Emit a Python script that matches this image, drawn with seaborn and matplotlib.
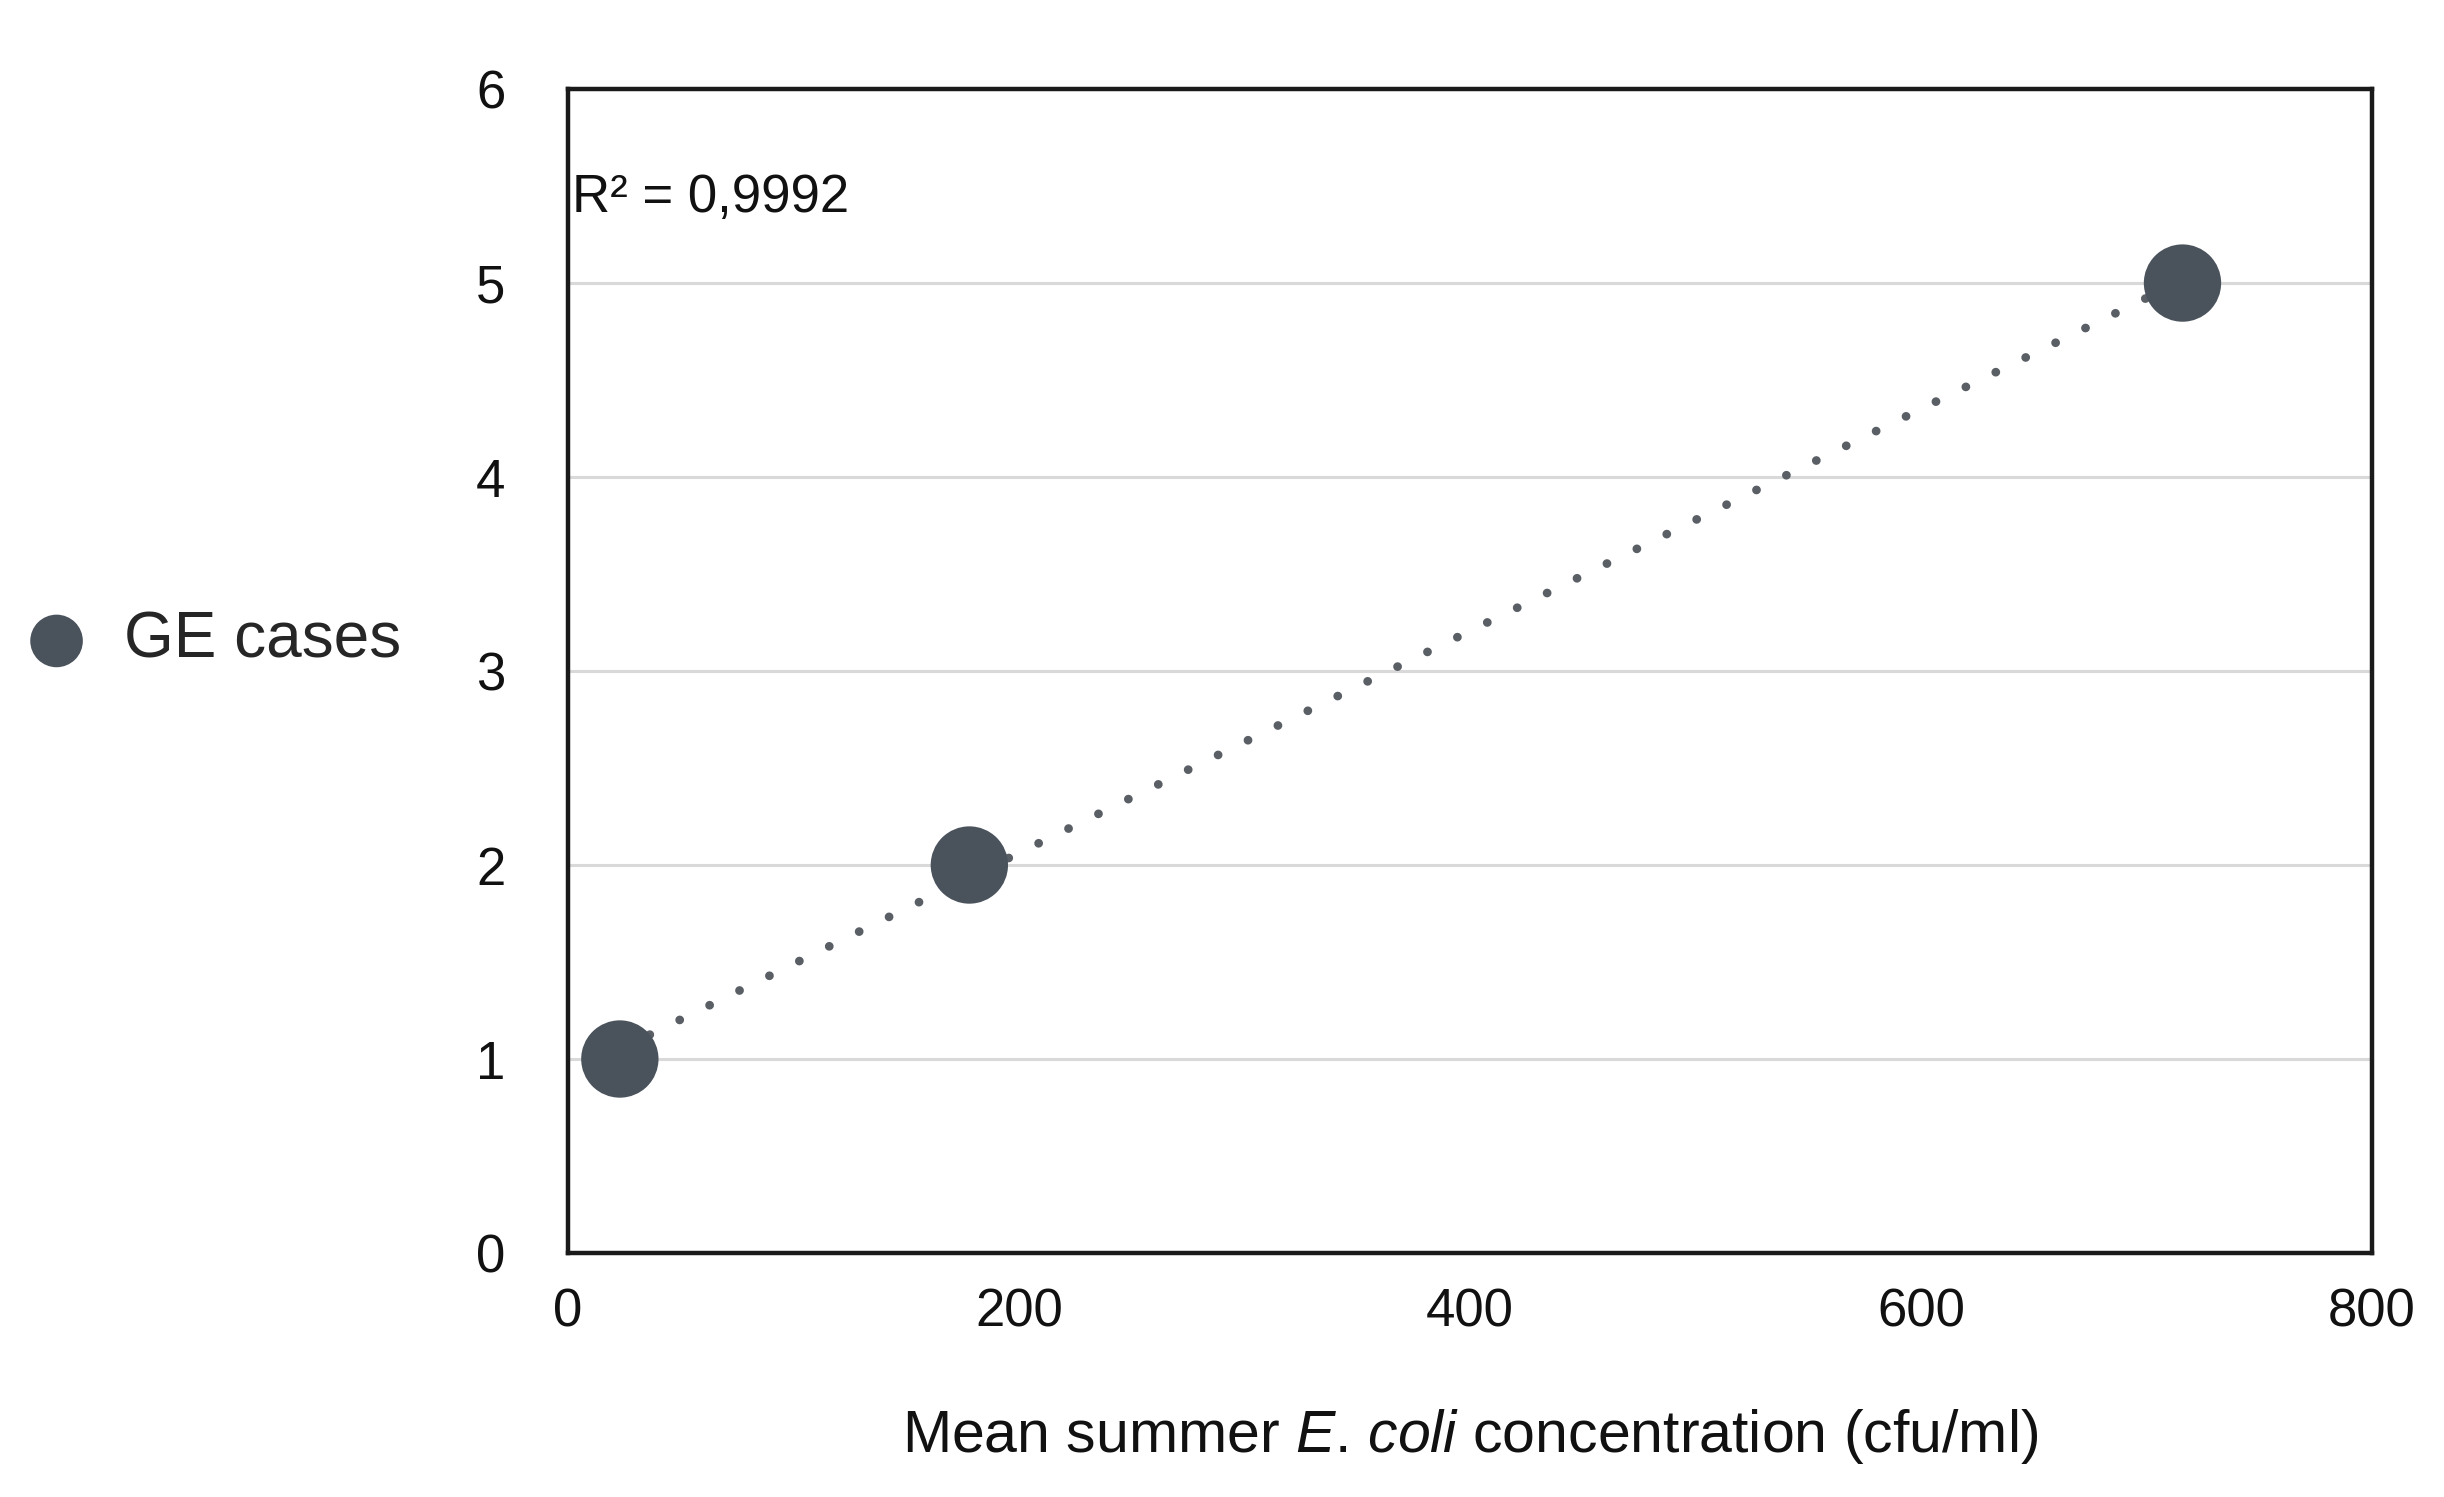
import numpy as np
import pandas as pd
import matplotlib
matplotlib.use("Agg")
import matplotlib.pyplot as plt
import seaborn as sns

# Data
concentration = [23, 178, 716]      # mean summer E. coli (cfu/ml)
ge_cases = [1, 2, 5]
series_label = "GE cases"
r2_label = "R² = 0,9992"
x_ticks = [0, 200, 400, 600, 800]
y_ticks = [0, 1, 2, 3, 4, 5, 6]

df = pd.DataFrame({"x": concentration, "y": ge_cases})

sns.set_theme(style="white")
plt.rcParams["font.family"] = ["Liberation Sans", "DejaVu Sans"]
plt.rcParams["mathtext.fontset"] = "custom"
plt.rcParams["mathtext.rm"] = "Liberation Sans"
plt.rcParams["mathtext.it"] = "Liberation Sans:italic"

fig = plt.figure(figsize=(24.44, 14.97), dpi=100)
ax = fig.add_axes([0.2324, 0.163, 0.9705 - 0.2324, 0.9405 - 0.163])

dot_color = "#4a525c"

# trend line (dotted)
sns.regplot(data=df, x="x", y="y", ax=ax, scatter=False, ci=None,
            line_kws=dict(color="#5a5f66", lw=6.3, linestyle=(0, (0.01, 3.8)),
                          dash_capstyle="round", zorder=2))

sns.scatterplot(data=df, x="x", y="y", ax=ax, s=3100, color=dot_color,
                edgecolor="none", label=series_label, zorder=3, legend=True)

ax.set_xlim(0, 800)
ax.set_ylim(0, 6)
ax.set_xticks(x_ticks)
ax.set_yticks(y_ticks)
ax.tick_params(axis="both", length=0, labelsize=38, colors="#111111")
ax.tick_params(axis="y", pad=45)
ax.tick_params(axis="x", pad=25)

for yv in y_ticks[1:-1]:
    ax.axhline(yv, color="#d9d9d9", lw=2.2, zorder=1)
ax.grid(False)

for sp in ax.spines.values():
    sp.set_color("#1a1a1a")
    sp.set_linewidth(3.2)

ax.set_ylabel("")
ax.set_xlabel(r"Mean summer $\mathit{E}$. $\mathit{coli}$ concentration (cfu/ml)", fontsize=42.5,
              labelpad=50, color="#111111")

ax.text(2, 5.44, r2_label, fontsize=38, va="center", ha="left", color="#111111")

leg = ax.legend(loc="center left", frameon=False, fontsize=46, markerscale=0.68,
                handletextpad=0.45, borderaxespad=0, handlelength=1.2)
leg.set_bbox_to_anchor((-0.003, 0.572), transform=fig.transFigure)

fig.savefig("out.png", dpi=100, facecolor="white")
